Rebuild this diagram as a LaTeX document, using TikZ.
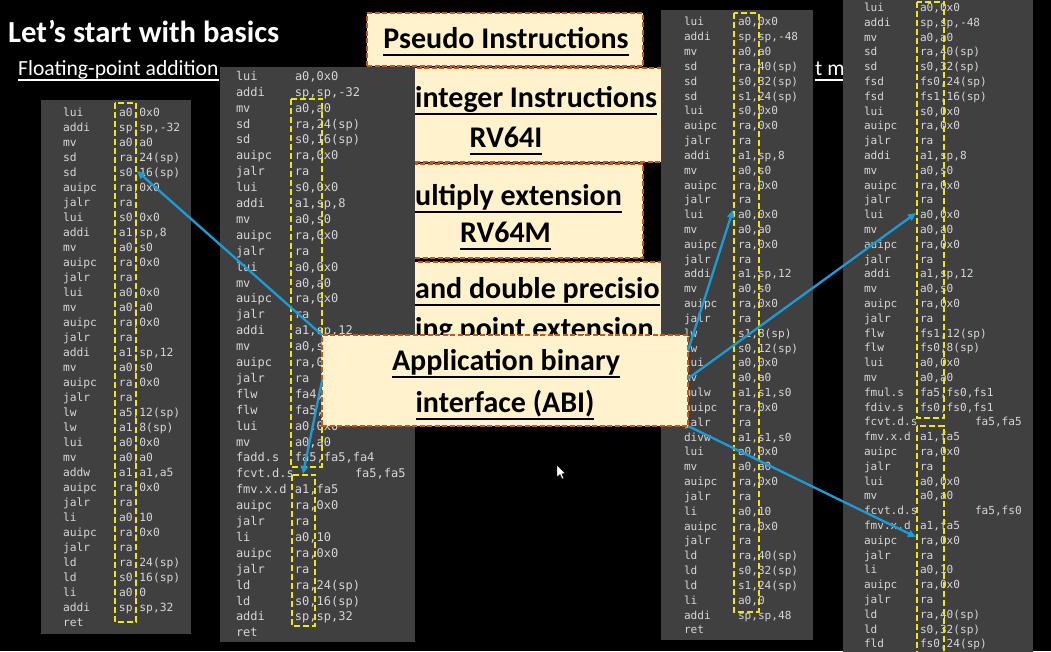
\documentclass[tikz,border=0pt]{standalone}
\usepackage{fontspec}
\setmainfont{Carlito}
\newfontfamily\codefont{DejaVu Sans Mono}
\usetikzlibrary{arrows.meta}
\definecolor{panelbg}{RGB}{64,64,64}
\definecolor{codetxt}{RGB}{214,214,214}
\definecolor{hl}{RGB}{240,230,20}
\definecolor{boxfill}{RGB}{255,242,204}
\definecolor{boxedge}{RGB}{197,90,17}
\definecolor{arr}{RGB}{27,155,215}
\newsavebox\ulsave
\newcommand\myul[1]{\sbox\ulsave{#1}\rlap{\rule[-0.255em]{\wd\ulsave}{0.065em}}\usebox\ulsave}
\tikzset{
  codenode/.style={anchor=north west, inner sep=0pt, outer sep=0pt, text=codetxt},
  hlbox/.style={draw=hl, line width=2pt, dash pattern=on 6pt off 3pt},
  cbox/.style={draw=boxedge, fill=boxfill, line width=2.2pt, dash pattern=on 5pt off 2.5pt, inner sep=0pt, outer sep=0pt},
  btext/.style={anchor=base, inner sep=0pt, text=black, font=\bfseries\fontsize{30}{36}\selectfont},
  abiarrow/.style={draw=arr, line width=2.3pt, -{Triangle[length=8pt,width=7pt]}},
}
\begin{document}
\begin{tikzpicture}[x=1pt,y=-1pt]
\useasboundingbox (0,0) rectangle (1051,651);
\fill[black] (0,0) rectangle (1051,651);

% headings
\node[anchor=base west, inner sep=0pt, text=white, font=\bfseries\fontsize{30.6}{36}\selectfont] (title) at (8,42) {Let’s start with basics};
\node[anchor=base west, inner sep=0pt, text=white, font=\fontsize{21.6}{25}\selectfont] (fpadd) at (18,75) {\myul{Floating-point addition}};
\node[anchor=base west, inner sep=0pt, text=white, font=\fontsize{21.6}{25}\selectfont] (fpmul) at (815,75) {\myul{t m}};

% layered boxes (behind the panels)
\node[cbox, minimum width=276pt, minimum height=53pt] (bpseudo) at (505,39.5) {};
\node[cbox, minimum width=275pt, minimum height=94pt] (bint) at (537.5,115) {};
\node[cbox, minimum width=243pt, minimum height=94pt] (bmul) at (521.5,211) {};
\node[cbox, minimum width=275pt, minimum height=80pt] (bfp) at (537.5,302) {};
\node[btext] (tpseudo) at (506,48) {\myul{Pseudo Instructions}};
\node[btext, anchor=base west] (tint1) at (415,107) {\myul{integer Instructions}};
\node[btext] (tint2) at (506,147) {\myul{RV64I}};
\node[btext, anchor=base west] (tmul1) at (415,205) {\myul{ultiply extension}};
\node[btext] (tmul2) at (505.5,242) {\myul{RV64M}};
\node[btext, anchor=base west] (tfp1) at (415,298) {\myul{and double precisio}};
\node[btext, anchor=base west] (tfp2) at (415,338) {\myul{ing point extension}};

% panel 1
\fill[panelbg] (41,100) rectangle (191,634);
\node[codenode, font=\codefont\fontsize{11.3}{15}\selectfont] (code1) at (63,105.5) {\begin{tabular}{@{}p{56pt}@{}l@{}}
lui & a0,0x0\\
addi & sp,sp,-32\\
mv & a0,a0\\
sd & ra,24(sp)\\
sd & s0,16(sp)\\
auipc & ra,0x0\\
jalr & ra\\
lui & s0,0x0\\
addi & a1,sp,8\\
mv & a0,s0\\
auipc & ra,0x0\\
jalr & ra\\
lui & a0,0x0\\
mv & a0,a0\\
auipc & ra,0x0\\
jalr & ra\\
addi & a1,sp,12\\
mv & a0,s0\\
auipc & ra,0x0\\
jalr & ra\\
lw & a5,12(sp)\\
lw & a1,8(sp)\\
lui & a0,0x0\\
mv & a0,a0\\
addw & a1,a1,a5\\
auipc & ra,0x0\\
jalr & ra\\
li & a0,10\\
auipc & ra,0x0\\
jalr & ra\\
ld & ra,24(sp)\\
ld & s0,16(sp)\\
li & a0,0\\
addi & sp,sp,32\\
ret &
\end{tabular}};
\draw[hlbox] (114.5,103) rectangle (135.7,622);

% panel 2
\fill[panelbg] (220,67) rectangle (415,642);
\node[codenode, font=\codefont\fontsize{12}{15.9}\selectfont] (code2) at (236,69.2) {\begin{tabular}{@{}p{59pt}@{}l@{}}
lui & a0,0x0\\
addi & sp,sp,-32\\
mv & a0,a0\\
sd & ra,24(sp)\\
sd & s0,16(sp)\\
auipc & ra,0x0\\
jalr & ra\\
lui & s0,0x0\\
addi & a1,sp,8\\
mv & a0,s0\\
auipc & ra,0x0\\
jalr & ra\\
lui & a0,0x0\\
mv & a0,a0\\
auipc & ra,0x0\\
jalr & ra\\
addi & a1,sp,12\\
mv & a0,s0\\
auipc & ra,0x0\\
jalr & ra\\
flw & fa4,12(sp)\\
flw & fa5,8(sp)\\
lui & a0,0x0\\
mv & a0,a0\\
fadd.s & fa5,fa5,fa4\\
fcvt.d.s & \hspace{60pt}fa5,fa5\\
fmv.x.d & a1,fa5\\
auipc & ra,0x0\\
jalr & ra\\
li & a0,10\\
auipc & ra,0x0\\
jalr & ra\\
ld & ra,24(sp)\\
ld & s0,16(sp)\\
addi & sp,sp,32\\
ret &
\end{tabular}};
\draw[hlbox] (291.3,98.7) rectangle (322,466.7);
\draw[hlbox] (292,475) rectangle (315.3,626);

% panel 3
\fill[panelbg] (661,10) rectangle (813,640);
\node[codenode, font=\codefont\fontsize{11.1}{14.83}\selectfont] (code3) at (684,15.5) {\begin{tabular}{@{}p{54pt}@{}l@{}}
lui & a0,0x0\\
addi & sp,sp,-48\\
mv & a0,a0\\
sd & ra,40(sp)\\
sd & s0,32(sp)\\
sd & s1,24(sp)\\
lui & s0,0x0\\
auipc & ra,0x0\\
jalr & ra\\
addi & a1,sp,8\\
mv & a0,s0\\
auipc & ra,0x0\\
jalr & ra\\
lui & a0,0x0\\
mv & a0,a0\\
auipc & ra,0x0\\
jalr & ra\\
addi & a1,sp,12\\
mv & a0,s0\\
auipc & ra,0x0\\
jalr & ra\\
lw & s1,8(sp)\\
lw & s0,12(sp)\\
lui & a0,0x0\\
mv & a0,a0\\
mulw & a1,s1,s0\\
auipc & ra,0x0\\
jalr & ra\\
divw & a1,s1,s0\\
lui & a0,0x0\\
mv & a0,a0\\
auipc & ra,0x0\\
jalr & ra\\
li & a0,10\\
auipc & ra,0x0\\
jalr & ra\\
ld & ra,40(sp)\\
ld & s0,32(sp)\\
ld & s1,24(sp)\\
li & a0,0\\
addi & sp,sp,48\\
ret &
\end{tabular}};
\draw[hlbox] (733.7,13.3) rectangle (758.5,611.7);

% panel 4
\fill[panelbg] (843,-5) rectangle (1033,656);
\node[codenode, font=\codefont\fontsize{11.1}{14.8}\selectfont] (code4) at (864,1.1) {\begin{tabular}{@{}p{56pt}@{}l@{}}
lui & a0,0x0\\
addi & sp,sp,-48\\
mv & a0,a0\\
sd & ra,40(sp)\\
sd & s0,32(sp)\\
fsd & fs0,24(sp)\\
fsd & fs1,16(sp)\\
lui & s0,0x0\\
auipc & ra,0x0\\
jalr & ra\\
addi & a1,sp,8\\
mv & a0,s0\\
auipc & ra,0x0\\
jalr & ra\\
lui & a0,0x0\\
mv & a0,a0\\
auipc & ra,0x0\\
jalr & ra\\
addi & a1,sp,12\\
mv & a0,s0\\
auipc & ra,0x0\\
jalr & ra\\
flw & fs1,12(sp)\\
flw & fs0,8(sp)\\
lui & a0,0x0\\
mv & a0,a0\\
fmul.s & fa5,fs0,fs1\\
fdiv.s & fs0,fs0,fs1\\
fcvt.d.s & \hspace{55pt}fa5,fa5\\
fmv.x.d & a1,fa5\\
auipc & ra,0x0\\
jalr & ra\\
lui & a0,0x0\\
mv & a0,a0\\
fcvt.d.s & \hspace{55pt}fa5,fs0\\
fmv.x.d & a1,fa5\\
auipc & ra,0x0\\
jalr & ra\\
li & a0,10\\
auipc & ra,0x0\\
jalr & ra\\
ld & ra,40(sp)\\
ld & s0,32(sp)\\
fld & fs0,24(sp)
\end{tabular}};
\draw[hlbox] (917.3,1.7) rectangle (944.3,418);
\draw[hlbox] (916.7,426) rectangle (944,660);

% ABI box on top
\node[cbox, minimum width=366pt, minimum height=91pt] (abi) at (505,380.5) {};
\node[btext] (tabi1) at (506,370) {\myul{Application binary}};
\node[btext] (tabi2) at (505,412) {\myul{interface (ABI)}};

% arrows
\coordinate (tA) at (137,171);
\coordinate (tB) at (303,474);
\coordinate (tC) at (733,210);
\coordinate (tD) at (916,213);
\coordinate (tE) at (916,537);
\draw[abiarrow] (abi.north west) -- (tA);
\draw[abiarrow] (abi.west) -- (tB);
\draw[abiarrow] ([yshift=30pt]abi.east) -- (tC);
\draw[abiarrow] ([yshift=2pt]abi.east) -- (tD);
\draw[abiarrow] (abi.south east) -- (tE);

% mouse cursor
\filldraw[fill=white, draw=black, line width=0.4pt] (557,465) -- (557,477) -- (560,474.5) -- (562,479) -- (563.8,478.2) -- (561.8,473.8) -- (565.5,473.5) -- cycle;
\end{tikzpicture}
\end{document}
